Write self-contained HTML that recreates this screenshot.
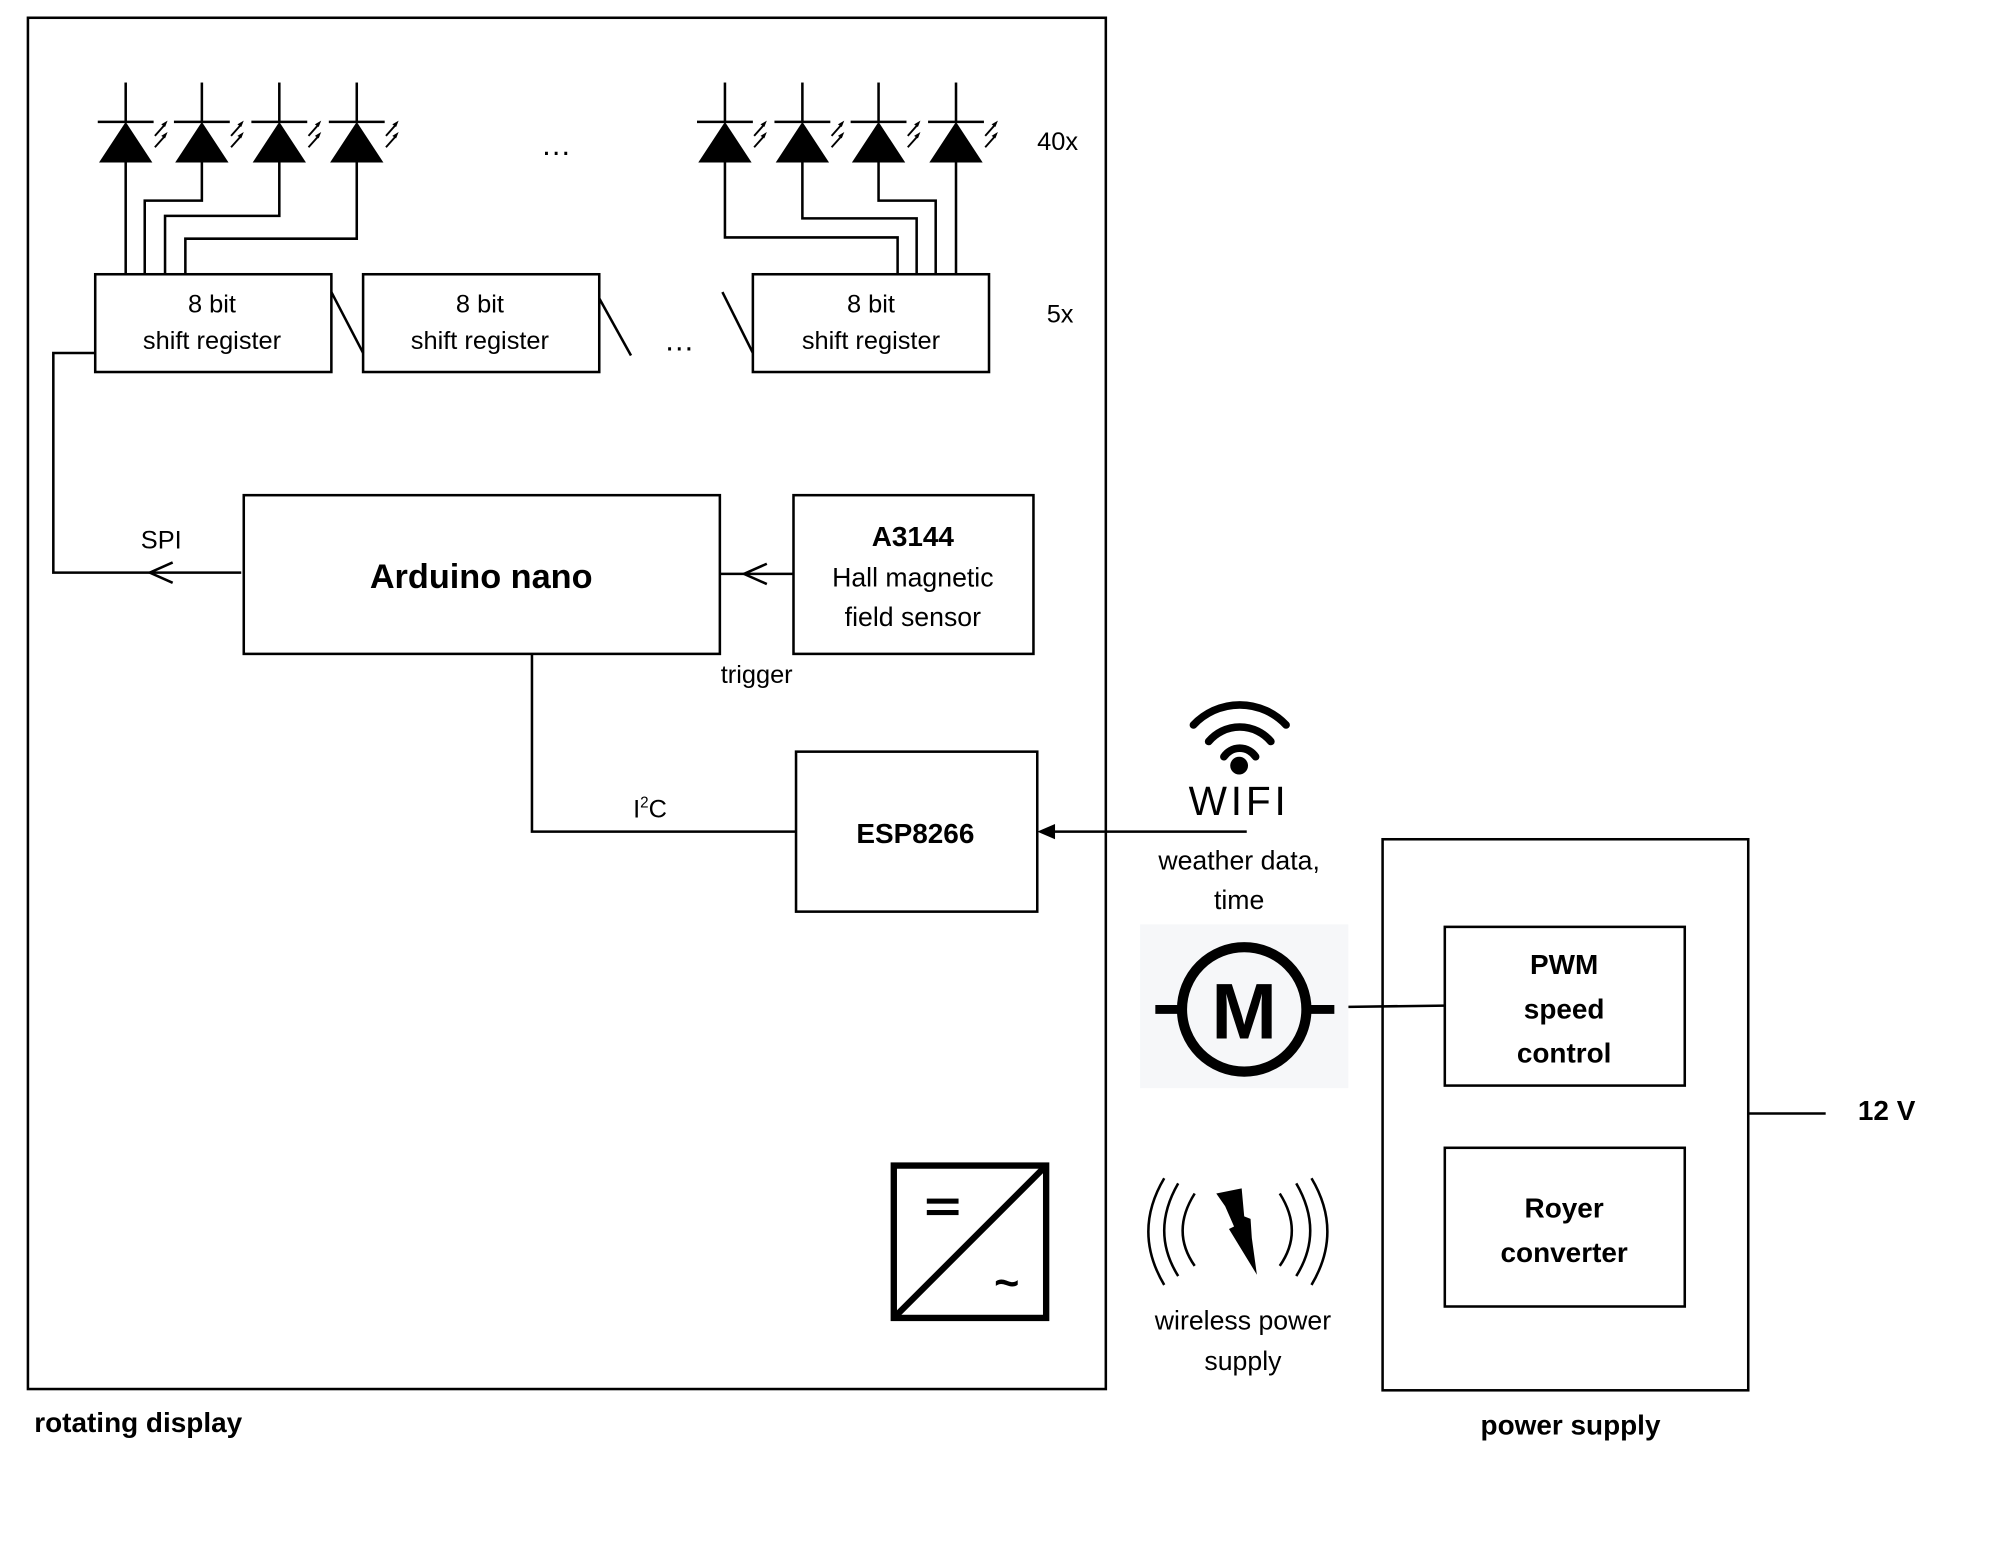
<!DOCTYPE html>
<html><head><meta charset="utf-8"><style>
html,body{margin:0;padding:0;background:#fff}
svg{display:block}
text{font-family:"Liberation Sans",sans-serif;fill:#000}
.b{font-weight:bold}
</style></head><body>
<svg width="1992" height="1556" viewBox="0 0 1569 1225.5" preserveAspectRatio="none" xmlns="http://www.w3.org/2000/svg">
<defs>
<g id="led">
<line x1="0" y1="-31" x2="0" y2="0" stroke="#000" stroke-width="2"/>
<line x1="-22" y1="0" x2="22" y2="0" stroke="#000" stroke-width="2"/>
<polygon points="0,0 -21,32 21,32" fill="#000"/>
<line x1="23" y1="11" x2="31" y2="2" stroke="#000" stroke-width="1.5"/>
<polygon points="33,-1 28,2 31,4" fill="#000"/>
<line x1="23" y1="20" x2="31" y2="11" stroke="#000" stroke-width="1.5"/>
<polygon points="33,8 28,11 31,13" fill="#000"/>
</g>
</defs>
<g fill="none" stroke="#000" stroke-width="2">
<rect x="22" y="14" width="849" height="1080"/>
<rect x="75" y="216" width="186" height="77"/>
<rect x="286" y="216" width="186" height="77"/>
<rect x="593" y="216" width="186" height="77"/>
<line x1="261" y1="230" x2="286" y2="278"/>
<line x1="472" y1="235" x2="497" y2="280"/>
<line x1="569" y1="230" x2="593" y2="278"/>
<rect x="192" y="390" width="375" height="125"/>
<rect x="625" y="390" width="189" height="125"/>
<rect x="627" y="592" width="190" height="126"/>
<rect x="1089" y="661" width="288" height="434"/>
<rect x="1138" y="730" width="189" height="125"/>
<rect x="1138" y="904" width="189" height="125"/>
<polyline points="99,127 99,216"/>
<polyline points="159,127 159,158 114,158 114,216"/>
<polyline points="220,127 220,170 130,170 130,216"/>
<polyline points="281,127 281,188 146,188 146,216"/>
<polyline points="571,127 571,187 707,187 707,216"/>
<polyline points="632,127 632,172 722,172 722,216"/>
<polyline points="692,127 692,158 737,158 737,216"/>
<polyline points="753,127 753,216"/>
<polyline points="75,278 42,278 42,451 190,451"/>
<polyline points="136,443 118,451 136,459"/>
<line x1="625" y1="452" x2="567" y2="452"/>
<polyline points="604,444 586,452 604,460"/>
<polyline points="419,515 419,655 627,655"/>
<line x1="982" y1="655" x2="830" y2="655"/>
<line x1="1062" y1="793" x2="1138" y2="792"/>
<line x1="1377" y1="877" x2="1438" y2="877"/>
</g>
<polygon points="817,655 831,649 831,661" fill="#000"/>
<use href="#led" x="99" y="96"/><use href="#led" x="159" y="96"/><use href="#led" x="220" y="96"/><use href="#led" x="281" y="96"/>
<use href="#led" x="571" y="96"/><use href="#led" x="632" y="96"/><use href="#led" x="692" y="96"/><use href="#led" x="753" y="96"/>
<g text-anchor="middle" font-size="20">
<text x="438" y="122" font-size="24">…</text>
<text x="535" y="276" font-size="24">…</text>
<text x="833" y="118">40x</text>
<text x="835" y="254">5x</text>
<text x="167" y="246">8 bit</text><text x="167" y="275">shift register</text>
<text x="378" y="246">8 bit</text><text x="378" y="275">shift register</text>
<text x="686" y="246">8 bit</text><text x="686" y="275">shift register</text>
<text x="127" y="432">SPI</text>
<text x="379" y="463" font-size="27" class="b">Arduino nano</text>
<text x="719" y="430" font-size="22" class="b">A3144</text>
<text x="719" y="462" font-size="21">Hall magnetic</text>
<text x="719" y="493" font-size="21">field sensor</text>
<text x="596" y="538">trigger</text>
<text x="512" y="644">I<tspan font-size="12" dy="-8">2</tspan><tspan dy="8">C</tspan></text>
<text x="721" y="664" font-size="22" class="b">ESP8266</text>
<text x="976" y="642" font-size="32" letter-spacing="3">WIFI</text>
<text x="976" y="685" font-size="21">weather data,</text>
<text x="976" y="716" font-size="21">time</text>
<text x="1232" y="767" font-size="22" class="b">PWM</text>
<text x="1232" y="802" font-size="22" class="b">speed</text>
<text x="1232" y="837" font-size="22" class="b">control</text>
<text x="1232" y="959" font-size="22" class="b">Royer</text>
<text x="1232" y="994" font-size="22" class="b">converter</text>
<text x="1486" y="882" font-size="22" class="b">12 V</text>
<text x="979" y="1047" font-size="21">wireless power</text>
<text x="979" y="1079" font-size="21">supply</text>
<text x="1237" y="1130" font-size="22" class="b">power supply</text>
</g>
<text x="27" y="1128" font-size="22" class="b">rotating display</text>
<g fill="none" stroke="#000" stroke-width="6" stroke-linecap="round">
<path d="M940,571 A50,50 0 0 1 1013,571"/>
<path d="M952,584 A32,32 0 0 1 1001,584"/>
<path d="M964,596 A15,15 0 0 1 989,596"/>
</g>
<circle cx="976" cy="603" r="7" fill="#000"/>
<rect x="898" y="728" width="164" height="129" fill="#f6f7f9"/>
<circle cx="980" cy="795" r="49" fill="none" stroke="#000" stroke-width="8"/>
<line x1="910" y1="795" x2="931" y2="795" stroke="#000" stroke-width="7"/>
<line x1="1029" y1="795" x2="1051" y2="795" stroke="#000" stroke-width="7"/>
<text x="980" y="818" font-size="62" class="b" text-anchor="middle">M</text>
<rect x="704" y="918" width="120" height="120" fill="none" stroke="#000" stroke-width="5"/>
<line x1="706" y1="1036" x2="822" y2="920" stroke="#000" stroke-width="5"/>
<rect x="730" y="944" width="25" height="4" fill="#000"/><rect x="730" y="953" width="25" height="4" fill="#000"/>
<text x="793" y="1022" font-size="34" class="b" text-anchor="middle">~</text>
<polygon points="958,940 978,936 980,958 985,960 986,975 990,1004 968,968 972,966 965,950" fill="#000"/>
<g fill="none" stroke="#000" stroke-width="2">
<path d="M917,928 Q892,970 917,1012"/>
<path d="M928,932 Q906,970 928,1005"/>
<path d="M941,940 Q922,970 941,997"/>
<path d="M1033,928 Q1058,970 1033,1012"/>
<path d="M1021,932 Q1043,970 1021,1005"/>
<path d="M1008,940 Q1027,970 1008,997"/>
</g>
</svg>
</body></html>
